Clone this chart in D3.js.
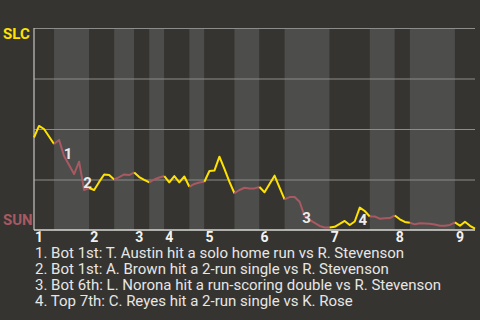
<!DOCTYPE html>
<html>
<head>
<meta charset="utf-8">
<script src="https://cdn.jsdelivr.net/npm/d3@7"></script>
<style>
  html, body { margin: 0; padding: 0; background: #363430; }
  svg { display: block; font-family: Roboto, "Noto Sans", sans-serif; }
</style>
</head>
<body>
<div id="chart"></div>
<script>
// SLC win probability after each plate appearance
const winProb = [
  0.458, 0.515, 0.500, 0.463, 0.426, 0.446, 0.366, 0.322, 0.277, 0.338,
  0.198, 0.208, 0.198, 0.238, 0.275, 0.272, 0.250, 0.262, 0.275, 0.272,
  0.285, 0.262, 0.248, 0.236, 0.250, 0.260, 0.267, 0.236, 0.267, 0.236,
  0.265, 0.214, 0.228, 0.235, 0.239, 0.292, 0.294, 0.363, 0.302, 0.238,
  0.182, 0.198, 0.209, 0.206, 0.206, 0.213, 0.187, 0.228, 0.269, 0.210,
  0.152, 0.163, 0.163, 0.140, 0.069, 0.050, 0.035, 0.020, 0.012, 0.012,
  0.016, 0.030, 0.045, 0.025, 0.042, 0.111, 0.094, 0.067, 0.067, 0.056,
  0.058, 0.059, 0.072, 0.053, 0.040, 0.036, 0.028, 0.033, 0.032, 0.031,
  0.027, 0.021, 0.021, 0.025, 0.038, 0.021, 0.041, 0.021, 0.007
];

// play index where each half-inning starts (top 1st, bot 1st, ...), last = end of game
const halfInningStarts = [0, 4, 11, 16, 20, 23, 26, 31, 34, 40, 45, 50, 59, 67, 72, 75, 84, 88];
const inningLabels = ["1", "2", "3", "4", "5", "6", "7", "8", "9"];

const awayTeam = "SLC";
const homeTeam = "SUN";

const eventPlays = [6, 10, 54, 65];
const eventTexts = [
  "Bot 1st: T. Austin hit a solo home run vs R. Stevenson",
  "Bot 1st: A. Brown hit a 2-run single vs R. Stevenson",
  "Bot 6th: L. Norona hit a run-scoring double vs R. Stevenson",
  "Top 7th: C. Reyes hit a 2-run single vs K. Rose"
];

const width = 480, height = 320;
const margin = {top: 28, right: 5, bottom: 90, left: 34};
const awayColor = "#ffe200", homeColor = "#a85961";

const svg = d3.select('#chart')
    .append('svg')
    .attr('width', width)
    .attr('height', height);

svg.append('rect').attr('width', width).attr('height', height).attr('fill', '#363430');

const x = d3.scaleLinear()
    .domain([0, halfInningStarts[halfInningStarts.length - 1]])
    .range([margin.left, width - margin.right]);
const y = d3.scaleLinear()
    .domain([0, 1])
    .range([height - margin.bottom, margin.top]);

// alternating half-inning bands
const halves = d3.pairs(halfInningStarts).map((p, i) => ({start: p[0], end: p[1], top: i % 2 === 0}));

svg.append('g').selectAll('rect')
    .data(halves)
    .join('rect')
    .attr('x', d => x(d.start))
    .attr('y', y(1))
    .attr('width', d => x(d.end) - x(d.start))
    .attr('height', y(0) - y(1))
    .attr('fill', d => d.top ? '#363430' : '#4d4d4b');

// gridlines
const grid = svg.append('g')
    .attr('transform', `translate(${margin.left},0)`)
    .call(d3.axisLeft(y).tickValues([0.25, 0.5, 0.75, 1]).tickSize(-(width - margin.left - margin.right)).tickFormat(''));
grid.select('.domain').remove();
grid.selectAll('.tick line').attr('stroke', '#8c8c8a').attr('stroke-width', 1.2);

// axis lines
svg.append('line')
    .attr('x1', margin.left).attr('x2', margin.left)
    .attr('y1', y(1)).attr('y2', y(0))
    .attr('stroke', '#b8b8b6').attr('stroke-width', 1.3);
svg.append('line')
    .attr('x1', margin.left).attr('x2', width - margin.right)
    .attr('y1', y(0)).attr('y2', y(0))
    .attr('stroke', '#d8d8d6').attr('stroke-width', 1.3);

// win probability line, coloured by batting team
const line = d3.line()
    .x(d => x(d.i))
    .y(d => y(d.p));

svg.append('g').selectAll('path')
    .data(halves)
    .join('path')
    .attr('d', h => line(d3.range(h.start, h.end + 1).map(i => ({i: i, p: winProb[i]}))))
    .attr('fill', 'none')
    .attr('stroke', h => h.top ? awayColor : homeColor)
    .attr('stroke-width', 2)
    .attr('stroke-linejoin', 'round');

// event markers
const nudge = [[4, 2.5], [3.5, -2.5], [2, 6.5], [3, 17.5]];
svg.append('g').selectAll('text')
    .data(eventPlays)
    .join('text')
    .attr('x', (d, i) => x(d) + nudge[i][0])
    .attr('y', (d, i) => y(winProb[d]) + nudge[i][1])
    .attr('text-anchor', 'middle')
    .attr('fill', '#ececec')
    .attr('font-size', 15)
    .attr('font-weight', 'bold')
    .text((d, i) => i + 1);

// inning labels at the start of each top half
svg.append('g').selectAll('text')
    .data(inningLabels)
    .join('text')
    .attr('x', (d, i) => x(halfInningStarts[i * 2]) + 1)
    .attr('y', y(0) + 12)
    .attr('fill', '#f2f2f2')
    .attr('font-size', 14)
    .attr('font-weight', 'bold')
    .text(d => d);

// team labels
svg.append('text')
    .attr('x', 3).attr('y', y(1) + 11)
    .attr('fill', awayColor)
    .attr('font-size', 15).attr('font-weight', 'bold')
    .text(awayTeam);
svg.append('text')
    .attr('x', 3).attr('y', y(0) - 5)
    .attr('fill', homeColor)
    .attr('font-size', 15).attr('font-weight', 'bold')
    .text(homeTeam);

// event descriptions
svg.append('g').selectAll('text')
    .data(eventTexts)
    .join('text')
    .attr('x', 35)
    .attr('y', (d, i) => y(0) + 28 + i * 16.1)
    .attr('fill', '#e6e6e6')
    .attr('font-size', 15)
    .text((d, i) => `${i + 1}. ${d}`);
</script>
</body>
</html>
